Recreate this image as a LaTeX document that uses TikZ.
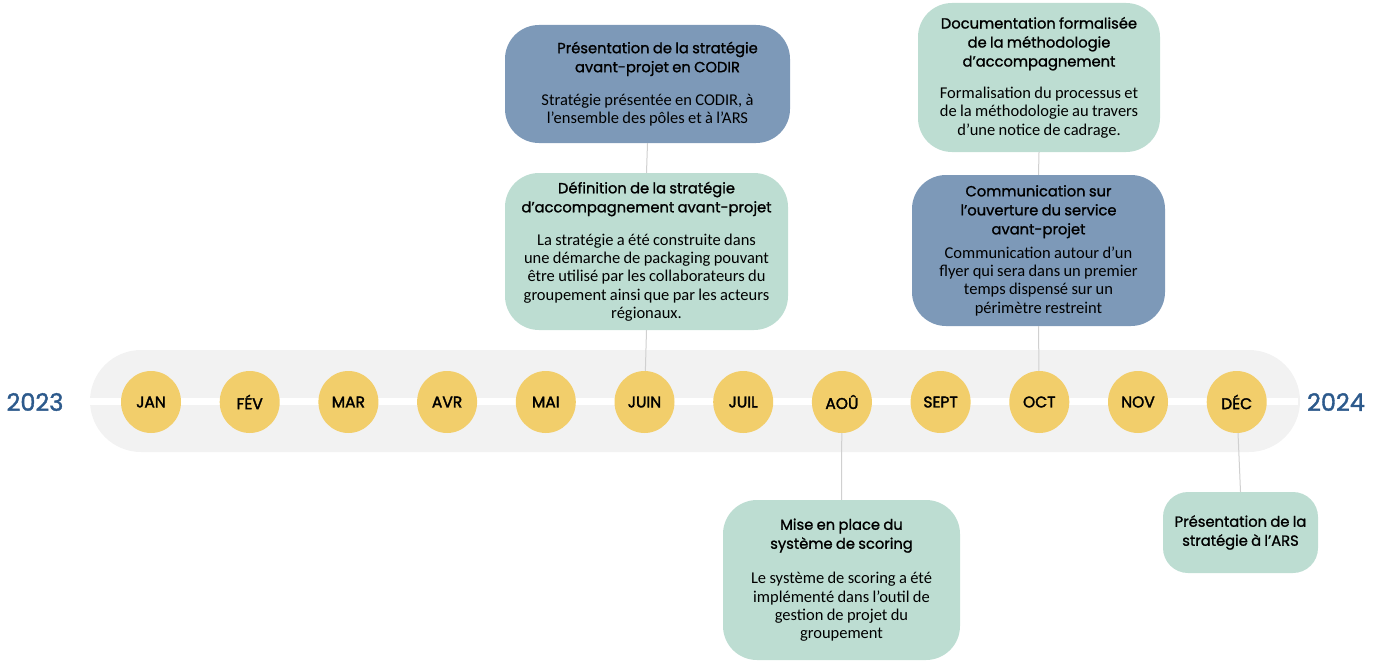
\documentclass[tikz,border=0pt]{standalone}
\usepackage{fontspec}
\setmainfont{Carlito}
\newfontfamily\tlHeadFont{Poppins}[FakeBold=1.2]
\newfontfamily\tlMonthFont{Poppins}[FakeBold=2]
\newfontfamily\tlYearFont{Poppins}[FakeBold=1.5]
\usetikzlibrary{shapes.geometric}
\definecolor{tlSlate}{HTML}{7D99B8}
\definecolor{tlMint}{HTML}{BDDDD2}
\definecolor{tlGold}{HTML}{F2CE6B}
\definecolor{tlRibbonGray}{HTML}{F2F2F2}
\definecolor{tlYearBlue}{HTML}{2D5A8C}
\definecolor{tlLinkGray}{HTML}{D0D0D0}
\newcommand\tlHead{\tlHeadFont\fontsize{14.7}{19}\selectfont}
\newcommand\tlText{\fontsize{16.5}{18.2}\selectfont}
\begin{document}
\begin{tikzpicture}[x=1pt,y=-1pt,
    tlBox/.style={rounded corners=34pt,align=center,inner sep=0pt,text=black},
    tlSlateBox/.style={tlBox,fill=tlSlate},
    tlMintBox/.style={tlBox,fill=tlMint},
    tlMonth/.style={ellipse,fill=tlGold,minimum width=60pt,minimum height=62pt,
                    inner sep=0pt,font=\tlMonthFont\fontsize{15.5}{15.5}\selectfont},
    tlYear/.style={text=tlYearBlue,font=\tlYearFont\fontsize{24}{24}\selectfont},
    tlLink/.style={draw=tlLinkGray,line width=1pt}]
    \useasboundingbox (0,0) rectangle (1376,661);
    % ribbon behind the months
    \fill[tlRibbonGray,rounded corners=51pt] (90,350) rectangle (1300,452);
    \draw[white,line width=7pt] (90,401) -- (1298,401);
    % events
    \node[tlSlateBox,minimum width=285pt,minimum height=118pt,text width=280pt]
        (codir) at (647.5,84)
        {{\tlHead\hspace*{20pt}Présentation de la stratégie\\\hspace*{20pt}avant-projet en CODIR\par}\vspace{15pt}
         {\tlText Stratégie présentée en CODIR, à\\l’ensemble des pôles et à l’ARS\par}};
    \node[tlMintBox,minimum width=283pt,minimum height=157pt,text width=278pt]
        (defStrat) at (646.5,251.5)
        {{\tlHead Définition de la stratégie\\d’accompagnement avant-projet\par}\vspace{15pt}
         {\tlText La stratégie a été construite dans\\une démarche de packaging pouvant\\
          être utilisé par les collaborateurs du\\groupement ainsi que par les acteurs\\régionaux.\par}};
    \node[tlMintBox,minimum width=242pt,minimum height=149pt,text width=238pt]
        (docMeth) at (1039,77.5)
        {{\tlHead Documentation formalisée\\de la méthodologie\\d’accompagnement\par}\vspace{14pt}
         {\tlText Formalisation du processus et\\de la méthodologie au travers\\d’une notice de cadrage.\par}};
    \node[tlSlateBox,minimum width=253pt,minimum height=151pt,text width=248pt]
        (comServ) at (1038.5,250.5)
        {{\tlHead Communication sur\\l’ouverture du service\\avant-projet\par}\vspace{6pt}
         {\tlText Communication autour d’un\\flyer qui sera dans un premier\\temps dispensé sur un\\périmètre restreint\par}};
    \node[tlMintBox,minimum width=237pt,minimum height=160pt,text width=232pt]
        (scoring) at (841.5,580)
        {{\tlHead Mise en place du\\système de scoring\par}\vspace{17pt}
         {\tlText Le système de scoring a été\\implémenté dans l’outil de\\gestion de projet du\\groupement\par}};
    \node[tlMintBox,rounded corners=25pt,minimum width=155pt,minimum height=81pt,text width=150pt]
        (arsPres) at (1240.5,532.5)
        {{\tlHead Présentation de la\\stratégie à l’ARS\par}};
    % months
    \foreach \m [count=\i] in {JAN,FÉV,MAR,AVR,MAI,JUIN,JUIL,AOÛ,SEPT,OCT,NOV,DÉC}
        \coordinate (pos\i) at (151+98.7*\i-98.7,402);
    \draw[tlLink] (codir.south) -- (defStrat.north);
    \draw[tlLink] (defStrat.south) -- (pos6);
    \draw[tlLink] (docMeth.south) -- (comServ.north);
    \draw[tlLink] (comServ.south) -- (pos10);
    \draw[tlLink] (pos8) -- (scoring.north);
    \draw[tlLink] (pos12) -- (arsPres.north);
    \foreach \m [count=\i] in {JAN,FÉV,MAR,AVR,MAI,JUIN,JUIL,AOÛ,SEPT,OCT,NOV,DÉC}
        \node[tlMonth] (mon\i) at (pos\i) {\m};
    % years
    \node[tlYear] (y2023) at (35,402) {2023};
    \node[tlYear] (y2024) at (1336,402) {2024};
\end{tikzpicture}
\end{document}
